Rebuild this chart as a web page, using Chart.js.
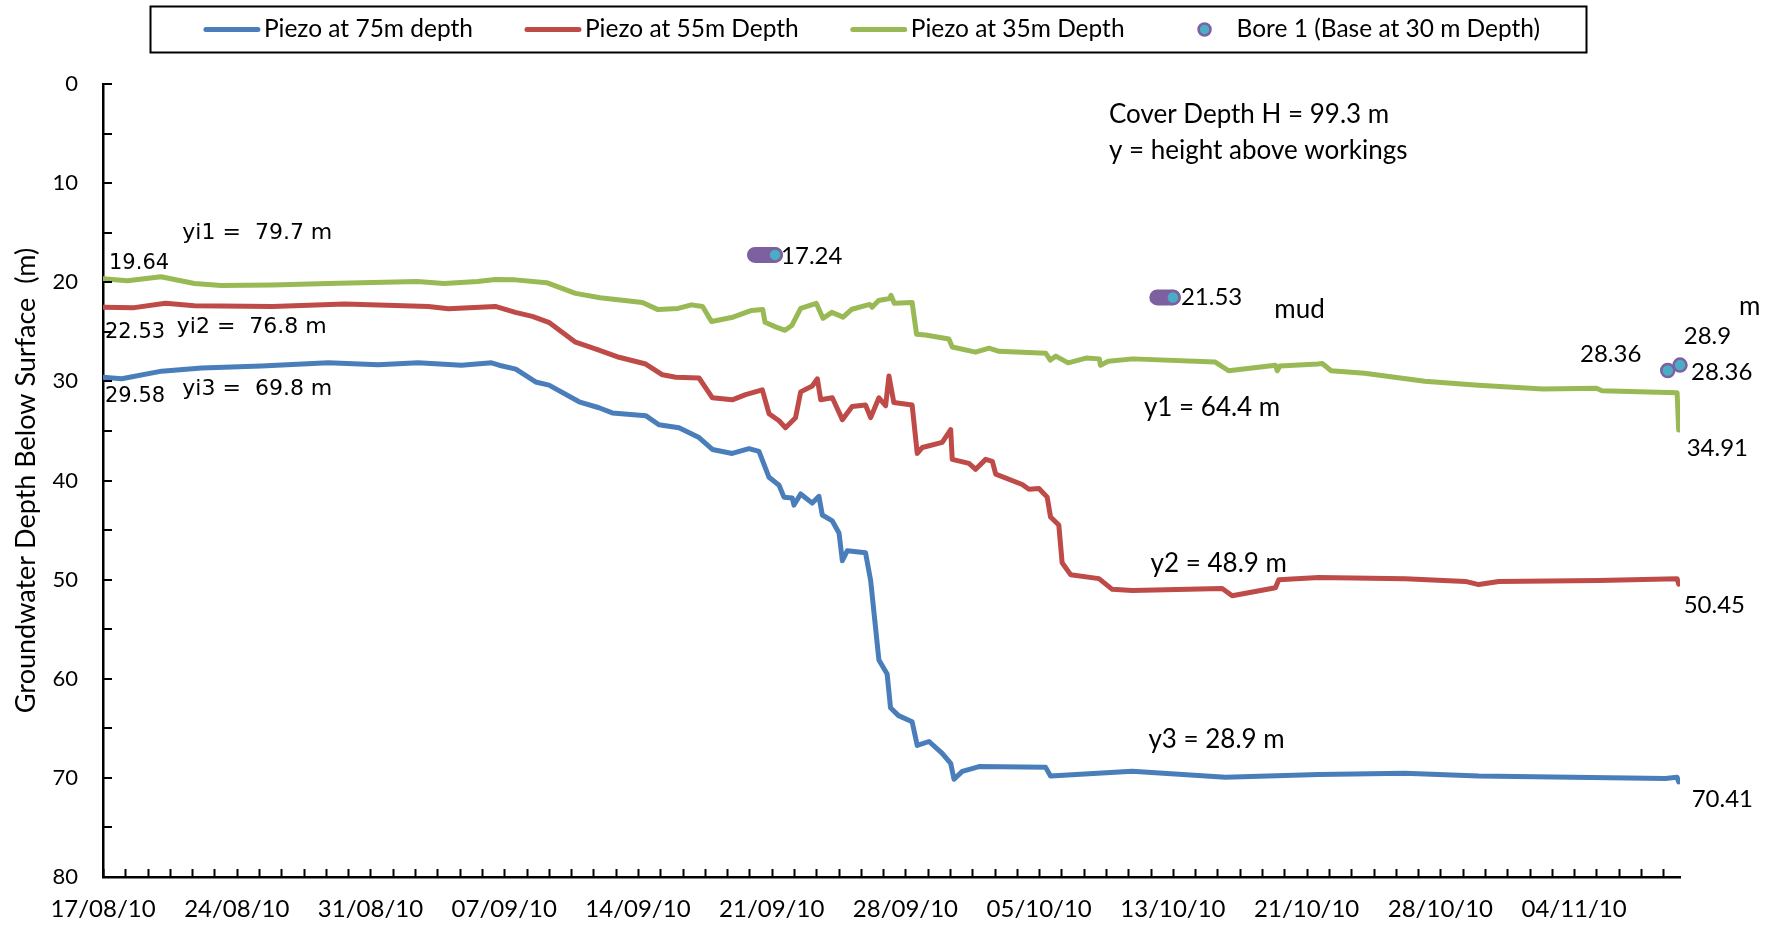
<!DOCTYPE html>
<html>
<head>
<meta charset="utf-8">
<script src="https://cdn.jsdelivr.net/npm/chart.js@4.4.1/dist/chart.umd.min.js"></script>
<style>
    html, body { margin: 0; padding: 0; background: #fff; }
    #wrap { width: 1776px; height: 927px; }
</style>
</head>
<body>
<div id="wrap"><canvas id="chart" width="1776" height="927"></canvas></div>
<script>
// ========== Datos ==========

// eje x en pasos de lectura; una fecha cada 6 pasos
const dateLabels = ['17/08/10', '24/08/10', '31/08/10', '07/09/10', '14/09/10', '21/09/10',
                    '28/09/10', '05/10/10', '13/10/10', '21/10/10', '28/10/10', '04/11/10'];
const stepsPerLabel = 6;
const lastStep = 70.75;

// Piezo a 75 m
const t75 = [0, 0.84, 2.63, 4.42, 7.11, 10.1, 12.35, 14.14, 16.08, 17.43, 17.77, 18.52, 19.41, 20.01,
             21.36, 22.25, 22.85, 24.35, 24.94, 25.84, 26.74, 27.34, 28.23, 28.98, 29.43, 29.88, 30.33,
             30.55, 30.92, 31.0, 31.3, 31.82, 32.12, 32.27, 32.72, 33.02, 33.17, 33.39, 34.21, 34.44,
             34.81, 35.18, 35.33, 35.69, 36.3, 36.53, 37.06, 37.65, 38.03, 38.18, 38.55, 39.3, 42.29,
             42.51, 46.17, 50.36, 54.54, 58.4, 61.72, 70.09, 70.62, 70.69];
const depth75 = [29.58, 29.74, 28.97, 28.65, 28.45, 28.13, 28.33, 28.13, 28.37, 28.13, 28.37, 28.77, 30.06, 30.38,
                 32.06, 32.66, 33.18, 33.46, 34.38, 34.67, 35.67, 36.87, 37.27, 36.79, 37.07, 39.68, 40.48,
                 41.68, 41.76, 42.48, 41.36, 42.28, 41.6, 43.48, 44.08, 45.29, 48.09, 47.09, 47.29, 50.1,
                 58.11, 59.52, 62.92, 63.72, 64.33, 66.73, 66.33, 67.53, 68.53, 70.14, 69.34, 68.86, 68.94,
                 69.82, 69.34, 69.94, 69.66, 69.54, 69.82, 70.06, 69.94, 70.41];

// Piezo a 55 m
const t55 = [0, 1.4, 2.8, 4.1, 7.6, 10.85, 14.6, 15.5, 17.6, 18.5, 19.26, 20.0, 21.2, 22.25, 23.15, 24.35,
             25.1, 25.7, 26.74, 27.34, 28.23, 28.83, 29.58, 29.88, 30.33, 30.62, 31.07, 31.3, 31.82, 32.05,
             32.2, 32.72, 33.17, 33.61, 34.21, 34.44, 34.81, 35.11, 35.26, 35.48, 36.3, 36.53, 36.76, 37.65,
             38.03, 38.1, 38.85, 39.15, 39.6, 39.9, 40.05, 41.24, 41.54, 41.99, 42.36, 42.51, 42.88, 43.03,
             43.41, 44.68, 45.28, 46.17, 50.21, 50.66, 52.6, 52.75, 54.54, 58.43, 61.12, 61.72, 62.62,
             67.1, 70.62, 70.69];
const depth55 = [22.53, 22.56, 22.12, 22.36, 22.44, 22.2, 22.44, 22.68, 22.44, 23.04, 23.44, 24.04, 26.05, 26.85,
                 27.57, 28.25, 29.34, 29.58, 29.66, 31.66, 31.86, 31.34, 30.86, 33.26, 33.98, 34.67, 33.66,
                 31.06, 30.46, 29.74, 31.86, 31.66, 33.86, 32.54, 32.38, 33.66, 31.66, 32.46, 29.46, 32.14,
                 32.38, 37.27, 36.67, 36.15, 34.87, 37.87, 38.27, 38.87, 37.87, 38.07, 39.36, 40.4, 40.88,
                 40.8, 41.68, 43.68, 44.49, 48.3, 49.5, 49.9, 50.98, 51.1, 50.9, 51.62, 50.82, 50.02, 49.78,
                 49.9, 50.18, 50.5, 50.18, 50.1, 49.9, 50.45];

// Piezo a 35 m
const t35 = [0, 1.1, 2.6, 4.1, 5.3, 7.6, 10.1, 14.1, 15.3, 16.8, 17.6, 18.5, 19.9, 21.2, 22.3, 24.2, 24.9,
             25.8, 26.4, 26.9, 27.3, 28.2, 29.1, 29.6, 29.7, 30.2, 30.6, 30.9, 31.3, 32.0, 32.3, 32.7, 33.2,
             33.6, 34.4, 34.5, 34.8, 35.3, 35.35, 35.5, 36.3, 36.5, 36.9, 37.95, 38.1, 39.15, 39.75, 40.2,
             42.3, 42.5, 42.75, 43.3, 44.1, 44.7, 44.75, 45.1, 46.2, 49.9, 50.5, 52.6, 52.68, 52.8, 54.5,
             54.7, 55.1, 56.6, 59.3, 61.7, 64.6, 67.0, 67.25, 70.62, 70.69];
const depth35 = [19.64, 19.84, 19.44, 20.12, 20.32, 20.28, 20.12, 19.92, 20.12, 19.92, 19.72, 19.76, 20.04, 21.12,
                 21.56, 22.04, 22.76, 22.64, 22.28, 22.44, 23.96, 23.56, 22.84, 22.76, 24.04, 24.53, 24.85,
                 24.37, 22.64, 22.12, 23.64, 23.04, 23.52, 22.72, 22.24, 22.52, 21.84, 21.64, 21.32, 22.12,
                 22.04, 25.25, 25.33, 25.73, 26.53, 27.05, 26.65, 26.97, 27.17, 27.85, 27.45, 28.13, 27.65,
                 27.73, 28.37, 27.97, 27.73, 28.05, 28.93, 28.37, 28.93, 28.45, 28.25, 28.2, 28.93, 29.18,
                 29.98, 30.38, 30.78, 30.7, 30.94, 31.14, 34.91];

// Bore 1: lecturas marcadas y tramos previos al mismo nivel
const boreT = [30.15, 48.0, 70.2, 70.75];
const boreDepth = [17.24, 21.53, 28.9, 28.36];
const boreRunStart = [29.25, 47.3];

// ========== Estilos ==========

const SANS = 'Lato, "Open Sans", sans-serif';
const DJV = '"DejaVu Sans", Verdana, sans-serif';
const COLORS = { p75: '#4A7EBB', p55: '#BE4B48', p35: '#98B954', borde: '#7D60A0', relleno: '#4BACC6' };

const toPoints = (ts, ds) => ts.map((t, i) => ({ x: t, y: ds[i] }));

function boreRuns() {
    const pts = [];
    boreRunStart.forEach((t0, i) => {
        pts.push({ x: t0, y: boreDepth[i] }, { x: boreT[i], y: boreDepth[i] }, { x: boreT[i], y: null });
    });
    return pts;
}

// Textos sueltos del gráfico (anclados en coordenadas de datos)
const notes = [
    { text: 'Cover Depth H = 99.3 m',     t: 45.13, depth: 3.09,  font: SANS, size: 26 },
    { text: 'y = height above workings',  t: 45.13, depth: 6.74,  font: SANS, size: 26 },
    { text: 'yi1 =  79.7 m',              t: 3.56,  depth: 15.09, font: DJV,  size: 22 },
    { text: 'yi2 =  76.8 m',              t: 3.31,  depth: 24.58, font: DJV,  size: 22 },
    { text: 'yi3 =  69.8 m',              t: 3.56,  depth: 30.75, font: DJV,  size: 22 },
    { text: 'y1 = 64.4 m',                t: 46.7,  depth: 32.69, font: SANS, size: 26 },
    { text: 'y2 = 48.9 m',                t: 47.0,  depth: 48.35, font: SANS, size: 26 },
    { text: 'y3 = 28.9 m',                t: 46.9,  depth: 66.17, font: SANS, size: 26 },
    { text: 'mud',                        t: 52.55, depth: 22.74, font: SANS, size: 26 },
    { text: 'm',                          t: 73.4,  depth: 22.5,  font: SANS, size: 26 },
];

// Etiquetas de valor: desplazamiento en px respecto al punto
const n75 = t75.length - 1, n55 = t55.length - 1, n35 = t35.length - 1;
const valueLabels = [
    { t: t35[0],   depth: depth35[0],   dx: 6,    dy: -15, font: DJV,  size: 21 },
    { t: t55[0],   depth: depth55[0],   dx: 2,    dy: 25,  font: DJV,  size: 21 },
    { t: t75[0],   depth: depth75[0],   dx: 2,    dy: 19,  font: DJV,  size: 21 },
    { t: t35[n35], depth: depth35[n35], dx: 8,    dy: 18,  font: SANS, size: 24 },
    { t: t55[n55], depth: depth55[n55], dx: 5,    dy: 21,  font: SANS, size: 24 },
    { t: t75[n75], depth: depth75[n75], dx: 13,   dy: 17,  font: SANS, size: 24 },
    { t: boreT[0], depth: boreDepth[0], dx: 6,    dy: 1,   font: SANS, size: 24 },
    { t: boreT[1], depth: boreDepth[1], dx: 8,    dy: 0,   font: SANS, size: 24 },
    { t: boreT[2], depth: boreDepth[2], dx: 16,   dy: -34, font: SANS, size: 24 },
    { t: boreT[3], depth: boreDepth[3], dx: 11,   dy: 7,   font: SANS, size: 24 },
    { t: boreT[3], depth: boreDepth[3], dx: -100, dy: -11, font: SANS, size: 24 },
];

// ========== Plugins ==========

const innerTicks = {
    id: 'innerTicks',
    afterDraw(chart) {
        const { ctx, chartArea: a, scales: { x, y } } = chart;
        ctx.save();
        ctx.strokeStyle = '#000';
        ctx.lineWidth = 2;
        ctx.beginPath();
        for (let u = 0; u <= x.max; u++) {
            const px = Math.round(x.getPixelForValue(u)) + 0.5;
            ctx.moveTo(px, a.bottom);
            ctx.lineTo(px, a.bottom - 8);
        }
        for (let d = y.min; d <= y.max; d += 5) {
            const py = Math.round(y.getPixelForValue(d));
            ctx.moveTo(a.left, py);
            ctx.lineTo(a.left + 9, py);
        }
        ctx.stroke();
        ctx.restore();
    }
};

const chartTexts = {
    id: 'chartTexts',
    afterDraw(chart) {
        const { ctx, scales: { x, y } } = chart;
        ctx.save();
        ctx.fillStyle = '#000';
        ctx.textAlign = 'left';
        ctx.textBaseline = 'middle';
        notes.forEach(n => {
            ctx.font = `${n.size}px ${n.font}`;
            ctx.fillText(n.text, x.getPixelForValue(n.t), y.getPixelForValue(n.depth));
        });
        valueLabels.forEach(l => {
            ctx.font = `${l.size}px ${l.font}`;
            ctx.fillText(String(l.depth), x.getPixelForValue(l.t) + l.dx, y.getPixelForValue(l.depth) + l.dy);
        });
        ctx.restore();
    }
};

const boxLegend = {
    id: 'boxLegend',
    afterDraw(chart) {
        const { ctx } = chart;
        const items = chart.data.datasets.filter(ds => !ds.hideInLegend);
        const sample = 56, gapText = 4, gapItem = 52, cx = 872, cy = 29.5;
        ctx.save();
        ctx.font = `24.5px ${SANS}`;
        const widths = items.map(ds => ctx.measureText(ds.label).width);
        const total = widths.reduce((s, w) => s + w + sample + gapText, 0) + gapItem * (items.length - 1);
        let xPos = cx - total / 2;

        ctx.strokeStyle = '#000';
        ctx.lineWidth = 2;
        ctx.strokeRect(Math.round(xPos - 54) + 0.5, 6.5, Math.round(total + 100), 46);

        items.forEach((ds, i) => {
            if (ds.showLine === false) {
                ctx.beginPath();
                ctx.arc(xPos + sample / 2, cy, 6, 0, Math.PI * 2);
                ctx.fillStyle = ds.backgroundColor;
                ctx.fill();
                ctx.lineWidth = 2.5;
                ctx.strokeStyle = ds.borderColor;
                ctx.stroke();
            } else {
                ctx.beginPath();
                ctx.moveTo(xPos + 2, cy);
                ctx.lineTo(xPos + sample - 2, cy);
                ctx.lineWidth = 5;
                ctx.lineCap = 'round';
                ctx.strokeStyle = ds.borderColor;
                ctx.stroke();
            }
            ctx.fillStyle = '#000';
            ctx.textAlign = 'left';
            ctx.textBaseline = 'middle';
            ctx.fillText(ds.label, xPos + sample + gapText, cy);
            xPos += sample + gapText + widths[i] + gapItem;
        });
        ctx.restore();
    }
};

// ========== Gráfica ==========

const lineStyle = {
    borderWidth: 5,
    pointRadius: 0,
    pointHoverRadius: 0,
    tension: 0,
    borderJoinStyle: 'round',
    borderCapStyle: 'round',
    fill: false,
};

new Chart(document.getElementById('chart'), {
    type: 'line',
    data: {
        datasets: [
            { label: 'Piezo at 75m depth', data: toPoints(t75, depth75), borderColor: COLORS.p75, order: 4, ...lineStyle },
            { label: 'Piezo at 55m Depth', data: toPoints(t55, depth55), borderColor: COLORS.p55, order: 3, ...lineStyle },
            { label: 'Piezo at 35m Depth', data: toPoints(t35, depth35), borderColor: COLORS.p35, order: 2, ...lineStyle },
            {
                label: 'Bore 1 runs', hideInLegend: true, data: boreRuns(), order: 1,
                borderColor: COLORS.borde, borderWidth: 16, borderCapStyle: 'round',
                pointRadius: 0, spanGaps: false, clip: false,
            },
            {
                label: 'Bore 1 (Base at 30 m Depth)', data: toPoints(boreT, boreDepth), order: 0,
                showLine: false, pointRadius: 6.5, pointBorderWidth: 2.5,
                borderColor: COLORS.borde, backgroundColor: COLORS.relleno,
                pointBackgroundColor: COLORS.relleno, pointBorderColor: COLORS.borde, clip: false,
            },
        ]
    },
    options: {
        responsive: false,
        animation: false,
        events: [],
        layout: { padding: { top: 84, right: 96, left: 0, bottom: 0 } },
        plugins: { legend: { display: false }, tooltip: { enabled: false } },
        scales: {
            x: {
                type: 'linear',
                min: 0,
                max: lastStep,
                afterFit: s => { s.height = 50; },
                grid: { display: false, drawTicks: false },
                border: { display: true, color: '#000', width: 2.5 },
                ticks: {
                    stepSize: 1,
                    autoSkip: false,
                    maxRotation: 0,
                    padding: 18,
                    color: '#000',
                    font: { family: SANS, size: 24 },
                    callback: v => (Number.isInteger(v) && v % stepsPerLabel === 0) ? (dateLabels[v / stepsPerLabel] ?? '') : '',
                },
            },
            y: {
                type: 'linear',
                reverse: true,
                min: 0,
                max: 80,
                afterFit: s => { s.width = 103; },
                grid: { display: false, drawTicks: false },
                border: { display: true, color: '#000', width: 2.5 },
                ticks: {
                    stepSize: 10,
                    padding: 25,
                    color: '#000',
                    font: { family: SANS, size: 22 },
                },
                title: {
                    display: true,
                    text: 'Groundwater Depth Below Surface  (m)',
                    color: '#000',
                    font: { family: SANS, size: 27 },
                    padding: { top: 10, bottom: 0 },
                },
            },
        },
    },
    plugins: [innerTicks, chartTexts, boxLegend],
});
</script>
</body>
</html>
